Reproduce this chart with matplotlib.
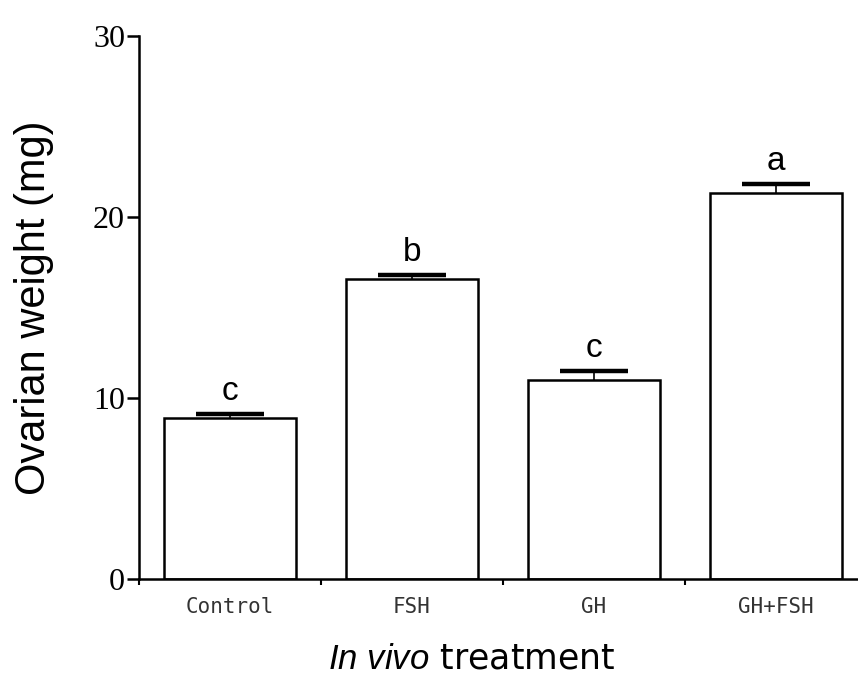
import matplotlib
matplotlib.use('Agg')
import matplotlib.pyplot as plt
import numpy as np

# data
treatments = ['Control', 'FSH', 'GH', 'GH+FSH']
weights = [8.9, 16.6, 11.0, 21.3]
errors = [0.2, 0.2, 0.5, 0.55]
letters = ['c', 'b', 'c', 'a']
y_ticks = [0, 10, 20, 30]

plt.rcParams['mathtext.fontset'] = 'custom'
plt.rcParams['mathtext.it'] = 'Liberation Sans:italic'
plt.rcParams['mathtext.rm'] = 'Liberation Sans'

fig = plt.figure(figsize=(8.58, 6.83), dpi=100)
# right edge runs past the figure, as in the cropped original
ax = fig.add_axes([139 / 858, 104 / 683, 728 / 858, 543 / 683])

pos = np.arange(len(treatments)) + 0.5
ax.bar(pos, weights, width=0.73, color='white', edgecolor='black',
       linewidth=1.8, zorder=2)

# upper error bars only, with a heavy cap
tops = np.array(weights) + np.array(errors)
ax.vlines(pos, weights, tops, color='black', linewidth=1.2, zorder=3)
ax.hlines(tops, pos - 0.185, pos + 0.185, color='black', linewidth=3.2,
          zorder=3)

for x, t, lab in zip(pos, tops, letters):
    ax.annotate(lab, (x, t), xytext=(0, 5), textcoords='offset points',
                ha='center', va='bottom', fontsize=24,
                family='Liberation Sans')

ax.set_xlim(0, 4)
ax.set_ylim(0, 30)

for side in ['top', 'right']:
    ax.spines[side].set_visible(False)
for side in ['left', 'bottom']:
    ax.spines[side].set_linewidth(1.8)

ax.set_yticks(y_ticks)
ax.set_yticklabels([str(t) for t in y_ticks], family='Liberation Serif',
                   fontsize=23)
ax.tick_params(axis='y', direction='out', length=8.5, width=1.8, pad=1.5)

ax.set_xticks(np.arange(len(treatments) + 1))
ax.set_xticklabels([])
ax.tick_params(axis='x', which='major', direction='out', length=4, width=1.5)
ax.set_xticks(pos, minor=True)
ax.set_xticklabels(treatments, minor=True, family='DejaVu Sans Mono',
                   fontsize=15, color='#333333')
ax.tick_params(axis='x', which='minor', length=0, pad=13)

ax.set_ylabel('Ovarian weight (mg)', family='Liberation Sans', fontsize=30,
              labelpad=28)
ax.set_xlabel('$\\it{In\\ vivo}$ treatment', fontsize=25)
ax.xaxis.set_label_coords((472 - 139) / 728, -0.115)

fig.savefig('out.png', dpi=100, facecolor='white')
